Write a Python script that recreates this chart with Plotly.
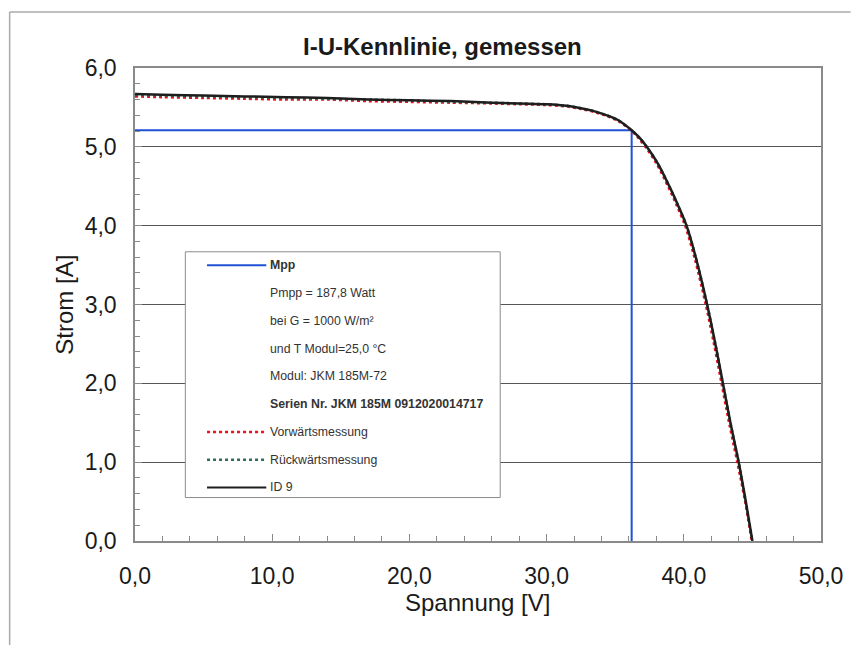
import plotly.graph_objects as go

# ---- data ----
volt_id9 = [0, 2, 5, 8, 11, 14, 17, 20, 23, 26, 28, 30, 31.5, 32.5, 33.5, 34.4, 35.2,
            36.2, 36.8, 37.3, 38.1, 39.0, 39.6, 40.2, 40.9, 41.7, 42.3, 42.85,
            43.4, 44.0, 44.5, 45.0]
curr_id9 = [5.67, 5.66, 5.65, 5.64, 5.63, 5.62, 5.60, 5.59, 5.58, 5.56, 5.55, 5.54, 5.52,
            5.49, 5.45, 5.40, 5.34, 5.21, 5.11, 5.00, 4.79, 4.48, 4.25, 4.00, 3.58,
            3.00, 2.50, 2.00, 1.50, 1.00, 0.52, 0.00]

volt_fwd = [0, 2, 5, 8, 11, 14, 17, 20, 23, 26, 28, 30, 31.5, 32.5, 33.5, 34.4, 35.2,
            36.15, 36.7, 37.2, 38.0, 38.9, 39.5, 40.1, 40.8, 41.6, 42.2, 42.75,
            43.3, 43.9, 44.45, 44.95]
curr_fwd = [5.64, 5.63, 5.62, 5.61, 5.60, 5.60, 5.58, 5.57, 5.56, 5.55, 5.54, 5.53, 5.51,
            5.48, 5.44, 5.39, 5.33, 5.21, 5.11, 5.00, 4.79, 4.48, 4.25, 4.00, 3.58,
            3.00, 2.50, 2.00, 1.50, 1.00, 0.52, 0.00]

volt_bwd = volt_id9
curr_bwd = [5.66, 5.65, 5.64, 5.63, 5.62, 5.61, 5.60, 5.59, 5.57, 5.56, 5.55, 5.54, 5.52,
            5.49, 5.45, 5.40, 5.34, 5.21, 5.11, 5.00, 4.79, 4.48, 4.25, 4.00, 3.58,
            3.00, 2.50, 2.00, 1.50, 1.00, 0.52, 0.00]

v_mpp = 36.2
i_mpp = 5.21

legend_rows = [
    ("<b>Mpp</b>", "mpp"),
    ("Pmpp = 187,8 Watt", None),
    ("bei G = 1000 W/m²", None),
    ("und T Modul=25,0 °C", None),
    ("Modul: JKM 185M-72", None),
    ("<b>Serien Nr. JKM 185M 0912020014717</b>", None),
    ("Vorwärtsmessung", "fwd"),
    ("Rückwärtsmessung", "bwd"),
    ("ID 9", "id9"),
]

# ---- styling ----
W, H = 855, 645
L, R, T, B = 135, 830, 68, 541.5
FONT = "Liberation Sans, Arial, sans-serif"
C_MPP = "#2150d6"
C_FWD = "#e8101c"
C_BWD = "#2e6e58"
C_ID9 = "#1e1e1e"


def px2x(px):
    return (px - L) / (R - L)


def py2y(py):
    return (B - py) / (B - T)


fig = go.Figure()
fig.add_trace(go.Scatter(x=[0, v_mpp, v_mpp], y=[i_mpp, i_mpp, 0], mode="lines",
                         line=dict(color=C_MPP, width=2), showlegend=False))
fig.add_trace(go.Scatter(x=volt_fwd, y=curr_fwd, mode="lines",
                         line=dict(color=C_FWD, width=2.5, dash="dot", shape="spline",
                                   smoothing=0.9),
                         showlegend=False))
fig.add_trace(go.Scatter(x=volt_bwd, y=curr_bwd, mode="lines",
                         line=dict(color=C_BWD, width=2.5, dash="dot", shape="spline",
                                   smoothing=0.9),
                         showlegend=False))
fig.add_trace(go.Scatter(x=volt_id9, y=curr_id9, mode="lines",
                         line=dict(color=C_ID9, width=2.5, shape="spline", smoothing=0.9),
                         showlegend=False))

shapes = []
annotations = []

# outer chart frame (scan border)
shapes.append(dict(type="line", xref="paper", yref="paper", x0=px2x(8), x1=px2x(W + 5),
                   y0=py2y(12), y1=py2y(12), line=dict(color="#aaaaaa", width=1.5)))
shapes.append(dict(type="line", xref="paper", yref="paper", x0=px2x(8), x1=px2x(8),
                   y0=py2y(12), y1=py2y(H + 5), line=dict(color="#aaaaaa", width=1.5)))

# legend box
lx0, lx1, ly0, ly1 = 186, 505, 252, 498
shapes.append(dict(type="rect", xref="paper", yref="paper", x0=px2x(lx0), x1=px2x(lx1),
                   y0=py2y(ly0), y1=py2y(ly1), line=dict(color="#8c8c8c", width=1),
                   fillcolor="white", layer="above"))
row0, dy = 265.5, 27.8
styles = {
    "mpp": dict(color=C_MPP, width=2, dash="solid"),
    "fwd": dict(color=C_FWD, width=2.5, dash="dot"),
    "bwd": dict(color=C_BWD, width=2.5, dash="dot"),
    "id9": dict(color=C_ID9, width=2, dash="solid"),
}
for k, (txt, sty) in enumerate(legend_rows):
    yy = row0 + k * dy
    if sty:
        shapes.append(dict(type="line", xref="paper", yref="paper", x0=px2x(208), x1=px2x(268),
                           y0=py2y(yy), y1=py2y(yy), line=styles[sty], layer="above"))
    annotations.append(dict(xref="paper", yref="paper", x=px2x(270), y=py2y(yy), text=txt,
                            showarrow=False, xanchor="left", yanchor="middle",
                            font=dict(family=FONT, size=12.3, color="#333333")))

# title
annotations.append(dict(xref="paper", yref="paper", x=px2x(447), y=py2y(46),
                        text="<b>I-U-Kennlinie, gemessen</b>", showarrow=False,
                        xanchor="center", yanchor="middle",
                        font=dict(family=FONT, size=24, color="#1a1a1a")))
# axis titles
annotations.append(dict(xref="paper", yref="paper", x=px2x(482), y=py2y(603),
                        text="Spannung [V]", showarrow=False, xanchor="center", yanchor="middle",
                        font=dict(family=FONT, size=24, color="#1a1a1a")))
annotations.append(dict(xref="paper", yref="paper", x=px2x(64), y=py2y(305),
                        text="Strom [A]", showarrow=False, xanchor="center", yanchor="middle",
                        textangle=-90, font=dict(family=FONT, size=24, color="#1a1a1a")))

fig.update_layout(
    width=W, height=H,
    margin=dict(l=L, r=W - R, t=T, b=H - B, pad=0),
    paper_bgcolor="white", plot_bgcolor="white",
    separators=",.",
    font=dict(family=FONT, size=23, color="#1a1a1a"),
    shapes=shapes, annotations=annotations,
    showlegend=False,
)
fig.update_xaxes(range=[0, 50], dtick=10, tick0=0, tickformat=".1f",
                 showgrid=False, zeroline=False,
                 showline=True, linecolor="#8a8a8a", linewidth=1.5, mirror=True,
                 ticks="inside", ticklen=7, tickcolor="#8a8a8a", tickwidth=1,
                 minor=dict(dtick=2, ticks="inside", ticklen=5, tickcolor="#8a8a8a"),
                 ticklabelstandoff=14, tickfont=dict(size=23))
fig.update_yaxes(range=[0, 6], dtick=1, tick0=0, tickformat=".1f",
                 showgrid=True, gridcolor="#555555", gridwidth=1, zeroline=False,
                 showline=True, linecolor="#8a8a8a", linewidth=1.5, mirror=True,
                 ticks="inside", ticklen=7, tickcolor="#8a8a8a", tickwidth=1,
                 minor=dict(dtick=0.2, ticks="inside", ticklen=5, tickcolor="#8a8a8a",
                            showgrid=False),
                 ticklabelstandoff=12, tickfont=dict(size=23))

fig.write_html("out.html")
